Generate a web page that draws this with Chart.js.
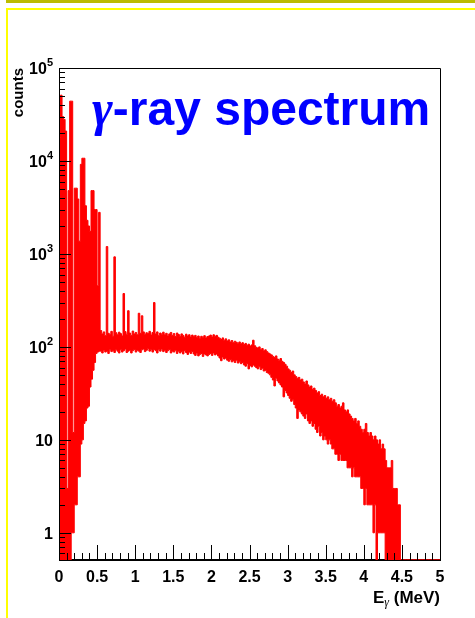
<!DOCTYPE html>
<html>
<head>
<meta charset="utf-8">
<title>gamma-ray spectrum</title>
<script src="https://cdn.jsdelivr.net/npm/chart.js@4.4.0/dist/chart.umd.min.js"></script>
<style>
  html, body { margin: 0; padding: 0; background: #fff; }
  canvas { display: block; }
</style>
</head>
<body>
<canvas id="spectrum" width="475" height="618" style="width:475px;height:618px"></canvas>
<script>
// histogram: 0.02 MeV bins from 0 to 5 MeV,
// highest and lowest count seen inside each bin
const binWidth = 0.02;

const countsMax = [
  18000, 51000, 30000, 28000, 21000, 3, 4800, 44000, 44000, 12,
  5100, 5100, 3900, 1370, 9200, 10700, 10700, 3300, 2300, 2000,
  1750, 4800, 4800, 3000, 3000, 455, 2800, 150, 138, 145,
  132, 1200, 140, 136, 147, 130, 930, 142, 135, 144,
  139, 131, 375, 146, 137, 245, 141, 133, 148, 138,
  143, 135, 230, 140, 216, 145, 136, 142, 139, 147,
  134, 143, 300, 138, 145, 132, 141, 137, 144, 135,
  140, 131, 138, 143, 133, 139, 129, 141, 136, 130,
  138, 133, 127, 137, 131, 135, 128, 134, 129, 133,
  126, 131, 124, 130, 127, 132, 125, 129, 131, 134,
  128, 135, 130, 133, 127, 124, 120, 125, 118, 122,
  116, 119, 113, 117, 111, 115, 112, 109, 113, 108,
  111, 106, 109, 104, 107, 102, 105, 118, 103, 99,
  97, 100, 94, 96, 91, 93, 89, 86, 84, 82,
  79, 77, 80, 74, 72, 75, 70, 68, 65, 62,
  58, 56, 53, 55, 50, 48, 46, 47, 44, 45,
  42, 40, 43, 39, 37, 38, 35, 36, 34, 32,
  33, 30, 31, 29, 30, 28, 29, 27, 28, 26,
  27, 25, 23, 24, 22, 23, 25, 21, 20, 21,
  19, 18, 17, 16, 17, 15, 16, 14, 13, 12,
  13, 15, 12, 11, 12, 11, 10, 11, 10, 9,
  10, 8, 9, 8, 6, 5, 5, 5, 6, 3,
  3, 3, 2, 2, 0, 0, 0, 0, 0, 0,
  0, 0, 0, 0, 0, 0, 0, 0, 0, 0,
  0, 0, 0, 0, 0, 0, 0, 0, 0, 0
];

const countsMin = [
  0, 0, 0, 0, 0, 0, 0, 0, 1, 1,
  2, 2, 4, 4, 9, 10, 15, 16, 22, 23,
  37, 45, 56, 68, 85, 88, 90, 90, 86, 92,
  88, 90, 85, 93, 89, 91, 87, 94, 90, 86,
  93, 88, 91, 95, 87, 90, 92, 86, 91, 94,
  88, 92, 90, 87, 93, 95, 89, 92, 96, 90,
  93, 88, 94, 91, 86, 93, 90, 95, 89, 92,
  87, 91, 94, 86, 90, 88, 92, 85, 90, 86,
  89, 84, 91, 87, 83, 88, 85, 89, 84, 81,
  86, 80, 83, 85, 79, 84, 82, 80, 83, 85,
  81, 86, 82, 84, 80, 76, 71, 78, 74, 76,
  72, 70, 73, 69, 71, 68, 72, 67, 69, 66,
  68, 64, 62, 66, 58, 63, 61, 64, 62, 60,
  58, 61, 57, 59, 55, 56, 53, 52, 50, 47,
  44, 38, 46, 43, 41, 39, 37, 29, 34, 32,
  30, 28, 26, 27, 24, 22, 17, 21, 20, 19,
  18, 17, 19, 16, 15, 16, 14, 15, 13, 12,
  14, 11, 12, 10, 11, 10, 9, 10, 9, 8,
  8, 7, 7, 6, 7, 6, 6, 6, 6, 5,
  5, 5, 4, 5, 4, 4, 4, 4, 3, 3,
  2, 3, 2, 2, 2, 2, 1, 2, 0, 1,
  1, 1, 1, 1, 0, 0, 0, 0, 0, 0,
  0, 0, 0, 0, 0, 0, 0, 0, 0, 0,
  0, 0, 0, 0, 0, 0, 0, 0, 0, 0,
  0, 0, 0, 0, 0, 0, 0, 0, 0, 0
];

const xMin = 0, xMax = 5;
const yMin = 0.51, yMax = 100000;
const xTickLabels = ["0", "0.5", "1", "1.5", "2", "2.5", "3", "3.5", "4", "4.5", "5"];
const yTickValues = [1, 10, 100, 1000, 10000, 100000];
const yTickBase = ["1", "10", "10", "10", "10", "10"];
const yTickExp = ["", "", "2", "3", "4", "5"];

const sans = '"Liberation Sans", Arial, Helvetica, sans-serif';
const serif = '"Liberation Serif", "Times New Roman", serif';

// empty bins sit on the bottom of the frame, as in the original
function toPoints(counts) {
  let pts = counts.map((c, i) => ({ x: i * binWidth, y: c > 0 ? c : yMin }));
  pts.push({ x: counts.length * binWidth, y: pts[pts.length - 1].y });
  return pts;
}

const decor = {
  id: "decor",
  beforeDraw(chart) {
    const ctx = chart.ctx;
    ctx.save();
    ctx.fillStyle = "#fff";
    ctx.fillRect(0, 0, chart.width, chart.height);
    // slide frame
    ctx.fillStyle = "#bcbc00";
    ctx.fillRect(6, 0, chart.width - 6, 3);
    ctx.fillStyle = "#ffff00";
    ctx.fillRect(6, 8, chart.width - 6, 2);
    ctx.fillRect(6, 8, 2, chart.height - 8);
    ctx.restore();
  },
  beforeDatasetsDraw(chart) {
    const ctx = chart.ctx, a = chart.chartArea;
    ctx.save();
    ctx.strokeStyle = "#000";
    ctx.lineWidth = 1;
    ctx.beginPath();
    ctx.moveTo(a.left, a.top + 0.5);
    ctx.lineTo(a.right + 0.5, a.top + 0.5);
    ctx.lineTo(a.right + 0.5, a.bottom);
    ctx.stroke();
    ctx.lineWidth = 2;
    ctx.beginPath();
    ctx.moveTo(a.left, a.bottom);
    ctx.lineTo(a.right + 1, a.bottom);
    ctx.stroke();
    ctx.restore();
  },
  afterDatasetsDraw(chart) {
    const ctx = chart.ctx, a = chart.chartArea;
    const xs = chart.scales.x, ys = chart.scales.y;
    ctx.save();
    ctx.strokeStyle = "#000";
    ctx.lineWidth = 1;
    ctx.beginPath();
    ctx.moveTo(a.left + 0.5, a.top);
    ctx.lineTo(a.left + 0.5, a.bottom);
    // log ticks, long ones on the decades
    for (let k = -1; k <= 5; k++) {
      for (let m = 1; m <= 9; m++) {
        const v = m * Math.pow(10, k);
        if (v < yMin || v > yMax) continue;
        const py = Math.round(ys.getPixelForValue(v)) + 0.5;
        ctx.moveTo(a.left, py);
        ctx.lineTo(a.left + (m == 1 ? 12 : 6), py);
      }
    }
    // x ticks every 0.1 MeV, long ones every 0.5
    for (let i = 1; i <= 50; i++) {
      const px = Math.round(xs.getPixelForValue(i / 10)) + 0.5;
      ctx.moveTo(px, a.bottom);
      ctx.lineTo(px, a.bottom - (i % 5 == 0 ? 15 : 7));
    }
    ctx.stroke();
    ctx.restore();
  },
  afterDraw(chart) {
    const ctx = chart.ctx, a = chart.chartArea;
    const ys = chart.scales.y;
    ctx.save();
    ctx.fillStyle = "#000";
    ctx.textBaseline = "alphabetic";
    // y labels with exponents
    for (let i = 0; i < yTickValues.length; i++) {
      const py = ys.getPixelForValue(yTickValues[i]);
      let right = a.left - 6;
      ctx.textAlign = "right";
      if (yTickExp[i]) {
        ctx.font = "bold 11px " + sans;
        ctx.fillText(yTickExp[i], right, py - 2);
        right -= ctx.measureText(yTickExp[i]).width;
      }
      ctx.font = "bold 16px " + sans;
      ctx.fillText(yTickBase[i], right, py + 6);
    }
    // y title
    ctx.save();
    ctx.translate(23, a.top);
    ctx.rotate(-Math.PI / 2);
    ctx.textAlign = "right";
    ctx.font = "bold 15px " + sans;
    ctx.fillText("counts", 0, 0);
    ctx.restore();
    // x title: E_gamma (MeV)
    ctx.textAlign = "left";
    ctx.font = "bold 17px " + sans;
    const wE = ctx.measureText("E").width;
    const wRest = ctx.measureText(" (MeV)").width;
    ctx.font = "italic 12px " + serif;
    const wG = ctx.measureText("\u03b3").width;
    let tx = a.right - (wE + wG + wRest);
    ctx.font = "bold 17px " + sans;
    ctx.fillText("E", tx, 603);
    ctx.font = "italic 12px " + serif;
    ctx.fillText("\u03b3", tx + wE, 606);
    ctx.font = "bold 17px " + sans;
    ctx.fillText(" (MeV)", tx + wE + wG, 603);
    // title
    ctx.fillStyle = "#0000ff";
    ctx.font = "italic bold 50px " + serif;
    ctx.fillText("\u03b3", 92, 125);
    const wg = ctx.measureText("\u03b3").width;
    ctx.font = "bold 48px " + sans;
    ctx.fillText("-ray spectrum", 92 + wg, 125);
    ctx.restore();
  }
};

new Chart(document.getElementById("spectrum"), {
  type: "line",
  data: {
    datasets: [
      {
        label: "min",
        data: toPoints(countsMin),
        stepped: "before",
        borderColor: "#ff0000",
        borderWidth: 1,
        pointRadius: 0,
        fill: false
      },
      {
        label: "max",
        data: toPoints(countsMax),
        stepped: "before",
        borderColor: "#ff0000",
        backgroundColor: "#ff0000",
        borderWidth: 1,
        pointRadius: 0,
        fill: "-1"
      }
    ]
  },
  options: {
    responsive: false,
    devicePixelRatio: 1,
    animation: false,
    events: [],
    layout: { padding: { left: 0, top: 68, right: 35, bottom: 0 } },
    plugins: {
      legend: { display: false },
      tooltip: { enabled: false }
    },
    scales: {
      x: {
        type: "linear",
        min: xMin,
        max: xMax,
        grid: { display: false, drawTicks: false },
        border: { display: false },
        ticks: {
          stepSize: 0.5,
          autoSkip: false,
          maxRotation: 0,
          padding: 8,
          color: "#000",
          font: { family: sans, size: 16, weight: "bold" },
          callback: (v, i) => xTickLabels[i]
        },
        afterFit: s => { s.height = 58; }
      },
      y: {
        type: "logarithmic",
        min: yMin,
        max: yMax,
        grid: { display: false, drawTicks: false },
        border: { display: false },
        ticks: { display: false },
        afterFit: s => { s.width = 59; }
      }
    }
  },
  plugins: [decor]
});
</script>
</body>
</html>
